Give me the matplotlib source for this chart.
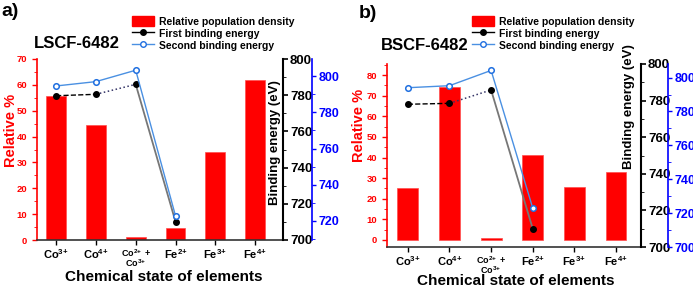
import matplotlib
matplotlib.use("Agg")
import matplotlib.pyplot as plt
from matplotlib.patches import Patch
from matplotlib.lines import Line2D
from matplotlib.ticker import MultipleLocator

plt.rcParams["font.family"] = ["Liberation Sans", "DejaVu Sans"]
plt.rcParams["font.weight"] = "bold"
plt.rcParams["mathtext.fontset"] = "custom"
plt.rcParams["mathtext.rm"] = "Liberation Sans:bold"
plt.rcParams["mathtext.bf"] = "Liberation Sans:bold"
plt.rcParams["mathtext.default"] = "bf"

# chemical states on the x axis
STATES = ["Co$^{3\\!+}$", "Co$^{4\\!+}$", "Co$^{2\\!+}$ +\nCo$^{3\\!+}$",
          "Fe$^{2\\!+}$", "Fe$^{3\\!+}$", "Fe$^{4\\!+}$"]

# relative population density (%) per state
LSCF_REL = [55.8, 44.3, 1.0, 4.5, 34.0, 62.0]
BSCF_REL = [25.4, 74.4, 1.0, 41.1, 25.7, 32.9]

# binding energies (eV) for Co3+, Co4+, Co2++Co3+, Fe2+
LSCF_BE1 = [779.7, 780.5, 786.0, 710.1]
LSCF_BE2 = [794.6, 797.0, 803.3, 722.8]
BSCF_BE1 = [778.0, 778.5, 785.8, 710.0]
BSCF_BE2 = [794.0, 795.2, 804.2, 723.0]

W, H = 693, 287
RED = "#ff0000"
BLUE = "#0000ff"
LBLUE = "#4a90e2"

fig = plt.figure(figsize=(W / 100, H / 100), dpi=100)


def px(x0, y0, x1, y1):
    # pixel box (top-left origin) -> figure fraction rect
    return [x0 / W, 1 - y1 / H, (x1 - x0) / W, (y1 - y0) / H]


def panel(rect, rel, be1, be2, xlim, rlim, rticks, blim, blue_out, blue_ticks):
    ax = fig.add_axes(rect)
    x = list(range(len(STATES)))
    ax.bar(x, rel, width=0.5, color=RED, edgecolor="#ff4d4d", linewidth=0.5, zorder=1)
    ax.set_xlim(*xlim)
    ax.set_ylim(*rlim)
    ax.set_yticks(rticks)
    ax.yaxis.set_minor_locator(MultipleLocator(5))
    ax.set_xticks(x)
    # two-line labels: first line as tick label, second line placed below it
    ax.set_xticklabels([s.split("\n")[0] for s in STATES], fontsize=8)
    for i, s in enumerate(STATES):
        if "\n" in s:
            ax.get_xticklabels()[i].set_fontsize(6.5)
            ax.annotate(s.split("\n")[1], xy=(i, 0), xycoords=("data", "axes fraction"),
                        xytext=(0, -23), textcoords="offset pixels",
                        ha="center", va="center", fontsize=6.5)
    ax.tick_params(axis="y", colors=RED, labelsize=6.8, length=3.5, width=1)
    ax.tick_params(axis="y", which="minor", colors=RED, length=2)
    ax.tick_params(axis="x", length=3.5, width=1, pad=2)
    ax.spines["left"].set_color(RED)
    ax.spines["left"].set_linewidth(1.2)
    ax.spines["bottom"].set_color("#333333")
    ax.spines["bottom"].set_linewidth(1.2)
    for s in ("top", "right"):
        ax.spines[s].set_visible(False)

    ax2 = ax.twinx()
    ax2.set_ylim(700, 800)
    ax2.yaxis.set_major_locator(MultipleLocator(20))
    ax2.yaxis.set_minor_locator(MultipleLocator(10))
    ax2.tick_params(axis="y", labelsize=9.5, length=3.5, width=1.2, pad=1.5)
    ax2.tick_params(axis="y", which="minor", length=2)
    for s in ("top", "left", "bottom"):
        ax2.spines[s].set_visible(False)
    ax2.spines["right"].set_linewidth(1.5)

    ax3 = ax.twinx()
    ax3.set_ylim(*blim)
    ax3.set_yticks(blue_ticks)
    ax3.yaxis.set_minor_locator(MultipleLocator(10))
    ax3.spines["right"].set_position(("outward", blue_out * 0.72))
    ax3.spines["right"].set_color(BLUE)
    ax3.spines["right"].set_linewidth(1.2)
    for s in ("top", "left", "bottom"):
        ax3.spines[s].set_visible(False)
    ax3.tick_params(axis="y", colors=BLUE, labelsize=9, length=3, width=1, pad=1.5)
    ax3.tick_params(axis="y", which="minor", colors=BLUE, length=1.8)

    xb = x[:len(be1)]
    styles = [("--", "black", 1.0), (":", "#333366", 1.1), ("-", "#777777", 1.3)]
    for i, (ls, c, lw) in enumerate(styles):
        ax2.plot(xb[i:i + 2], be1[i:i + 2], ls=ls, color=c, lw=lw, zorder=2)
    ax2.plot(xb, be1, ls="none", marker="o", ms=4, mfc="black", mec="black", zorder=3)
    ax3.plot(xb, be2, ls="-", color=LBLUE, lw=1.0, marker="o", ms=4,
             mfc="white", mec="#1f6fe0", mew=1.1, zorder=3)
    return ax


axa = panel(px(37, 59, 283, 240), LSCF_REL, LSCF_BE1, LSCF_BE2,
            (-0.48, 5.7), (0, 70), range(0, 71, 10), (709.5, 809.5), 29, range(720, 801, 20))
axb = panel(px(387, 64, 641, 247), BSCF_REL, BSCF_BE1, BSCF_BE2,
            (-0.5, 5.6), (-3.4, 85.4), range(0, 81, 10), (700, 808), 27, range(700, 801, 20))

handles = [
    Patch(facecolor=RED, edgecolor=RED),
    Line2D([], [], color="black", lw=1, marker="o", ms=4, mfc="black"),
    Line2D([], [], color=LBLUE, lw=1, marker="o", ms=4, mfc="white", mec="#1f6fe0"),
]
labels = ["Relative population density", "First binding energy", "Second binding energy"]
for lx in (132, 472):
    fig.legend(handles, labels, loc="upper left", bbox_to_anchor=(lx / W, 1 - 16 / H),
               frameon=False, fontsize=7.5, handlelength=2.1, handleheight=1.15,
               handletextpad=0.45, labelspacing=0.12, borderpad=0, borderaxespad=0)

# panel letters, titles, axis labels
fig.text(10 / W, 1 - 11 / H, "a)", fontsize=14, ha="center", va="center")
fig.text(368 / W, 1 - 14 / H, "b)", fontsize=14, ha="center", va="center")
fig.text(76.5 / W, 1 - 43 / H, "LSCF-6482", fontsize=12, ha="center", va="center")
fig.text(425 / W, 1 - 46 / H, "BSCF-6482", fontsize=12, ha="center", va="center")
fig.text(11 / W, 1 - 130 / H, "Relative %", fontsize=10.5, color=RED, rotation=90,
         ha="center", va="center")
fig.text(359 / W, 1 - 125 / H, "Relative %", fontsize=10.5, color=RED, rotation=90,
         ha="center", va="center")
fig.text(275 / W, 1 - 143 / H, "Binding energy (eV)", fontsize=9.5, rotation=90,
         ha="center", va="center")
fig.text(629 / W, 1 - 107 / H, "Binding energy (eV)", fontsize=9.5, rotation=90,
         ha="center", va="center")
fig.text(164 / W, 1 - 277 / H, "Chemical state of elements", fontsize=11, ha="center", va="center")
fig.text(516 / W, 1 - 281 / H, "Chemical state of elements", fontsize=11, ha="center", va="center")

fig.savefig("out.png", dpi=100)
